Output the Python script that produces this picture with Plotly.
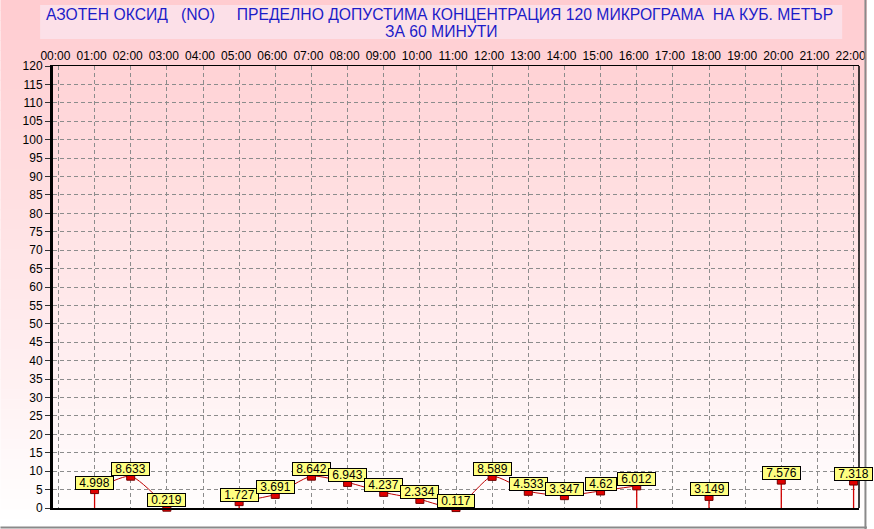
import plotly.graph_objects as go

# ---- data ----
hours = list(range(23))
hour_labels = [f"{h:02d}:00" for h in hours]
values = [None, 4.998, 8.633, 0.219, None, 1.727, 3.691, 8.642, 6.943, 4.237,
          2.334, 0.117, 8.589, 4.533, 3.347, 4.62, 6.012, None, 3.149, None,
          7.576, None, 7.318]
y_ticks = list(range(0, 121, 5))
title_line1 = ("АЗОТЕН ОКСИД\u00a0\u00a0\u00a0(NO)\u00a0\u00a0\u00a0\u00a0\u00a0ПРЕДЕЛНО ДОПУСТИМА "
               "КОНЦЕНТРАЦИЯ 120 МИКРОГРАМА\u00a0\u00a0НА КУБ. МЕТЪР")
title_line2 = "ЗА 60 МИНУТИ"

# ---- geometry / style ----
W, H = 874, 529
ML, MR, MT, MB = 53, 8, 66, 21
PW, PH = W - ML - MR, H - MT - MB
FONT = "Arial, 'Liberation Sans', sans-serif"
LINE_RED = "#c00000"


def px_x(p):
    return (p - ML) / PW


def px_y(p):
    return (H - MB - p) / PH


fig = go.Figure()

# drop lines at segment ends
dx, dy = [], []
for i, v in enumerate(values):
    if v is None:
        continue
    prev_missing = i == 0 or values[i - 1] is None
    next_missing = i == len(values) - 1 or values[i + 1] is None
    if prev_missing or next_missing:
        dx += [hours[i], hours[i], None]
        dy += [0, v, None]
fig.add_trace(go.Scatter(x=dx, y=dy, mode="lines",
                         line=dict(color="#d00000", width=1.3),
                         hoverinfo="skip", showlegend=False))

# main smoothed line
fig.add_trace(go.Scatter(x=hours, y=values, mode="lines",
                         line=dict(color=LINE_RED, width=1, shape="spline", smoothing=0.6),
                         connectgaps=False, showlegend=False))

# markers
mx = [h for h, v in zip(hours, values) if v is not None]
my = [v for v in values if v is not None]
fig.add_trace(go.Scatter(x=mx, y=my, mode="markers", cliponaxis=False,
                         marker=dict(symbol="square", size=8, color="#e00000",
                                     line=dict(color="#700000", width=1)),
                         showlegend=False))

annotations = []
for h, v in zip(mx, my):
    annotations.append(dict(
        x=h, y=v, xref="x", yref="y", showarrow=False,
        text="\u00a0" + f"{v:g}" + "\u00a0",
        font=dict(family=FONT, size=12, color="black"),
        bgcolor="#ffff80", bordercolor="black", borderwidth=1, borderpad=0,
        height=12, xanchor="center", yanchor="bottom"))

annotations.append(dict(x=px_x(443), y=px_y(15), xref="paper", yref="paper",
                        text=title_line1, showarrow=False,
                        font=dict(family=FONT, size=15.7, color="#1c1cc8"),
                        xanchor="center", yanchor="middle"))
annotations.append(dict(x=px_x(445), y=px_y(31), xref="paper", yref="paper",
                        text=title_line2, showarrow=False,
                        font=dict(family=FONT, size=15.7, color="#1c1cc8"),
                        xanchor="center", yanchor="middle"))

# background gradient bands
shapes = []
bands = 53
for i in range(bands):
    t = i / (bands - 1)
    r = 255
    g = round(204 + (255 - 204) * t)
    b = round(208 + (255 - 208) * t)
    y0 = i * H / bands
    y1 = (i + 1) * H / bands + 0.6
    shapes.append(dict(type="rect", xref="paper", yref="paper",
                       x0=px_x(0), x1=px_x(W), y0=px_y(y1), y1=px_y(y0),
                       fillcolor=f"rgb({r},{g},{b})", line=dict(width=0),
                       layer="below"))
# title box
shapes.append(dict(type="rect", xref="paper", yref="paper",
                   x0=px_x(40), x1=px_x(849), y0=px_y(39), y1=px_y(5),
                   fillcolor="rgb(252,224,232)", line=dict(width=0), layer="below"))
# right border of plot
shapes.append(dict(type="line", xref="x domain", yref="y domain",
                   x0=1, x1=1, y0=0, y1=1, line=dict(color="black", width=1.5)))
# outer gray frame edges
shapes.append(dict(type="line", xref="paper", yref="paper",
                   x0=px_x(W - 1.5), x1=px_x(W - 1.5), y0=px_y(H), y1=px_y(0),
                   line=dict(color="#8a8a8a", width=2)))
shapes.append(dict(type="line", xref="paper", yref="paper",
                   x0=px_x(0), x1=px_x(W), y0=px_y(H - 1.5), y1=px_y(H - 1.5),
                   line=dict(color="#8a8a8a", width=2)))

fig.update_layout(
    width=W, height=H,
    margin=dict(l=ML, r=MR, t=MT, b=MB, pad=0),
    paper_bgcolor="white", plot_bgcolor="rgba(0,0,0,0)",
    font=dict(family=FONT, size=12, color="black"),
    showlegend=False, hovermode=False,
    annotations=annotations, shapes=shapes,
    xaxis=dict(side="top", range=[-0.15, 22.15], tickmode="array",
               tickvals=hours, ticktext=hour_labels,
               showgrid=True, gridcolor="#8c8c8c", gridwidth=1, griddash="4px,3px",
               showline=True, linecolor="black", linewidth=1.5, mirror=True,
               ticks="", zeroline=False, tickfont=dict(size=12), ticklabelshift=-3),
    yaxis=dict(range=[0, 120], tickmode="array", tickvals=y_ticks,
               showgrid=True, gridcolor="#8c8c8c", gridwidth=1, griddash="4px,3px",
               showline=True, linecolor="black", linewidth=3, mirror=False,
               ticks="outside", ticklen=5, tickcolor="#333333", tickwidth=1,
               zeroline=False, tickfont=dict(size=12)),
)

fig.write_html("out.html", config={"displayModeBar": False, "staticPlot": True},
               post_script="document.body.style.margin='0';document.body.style.padding='0';")
